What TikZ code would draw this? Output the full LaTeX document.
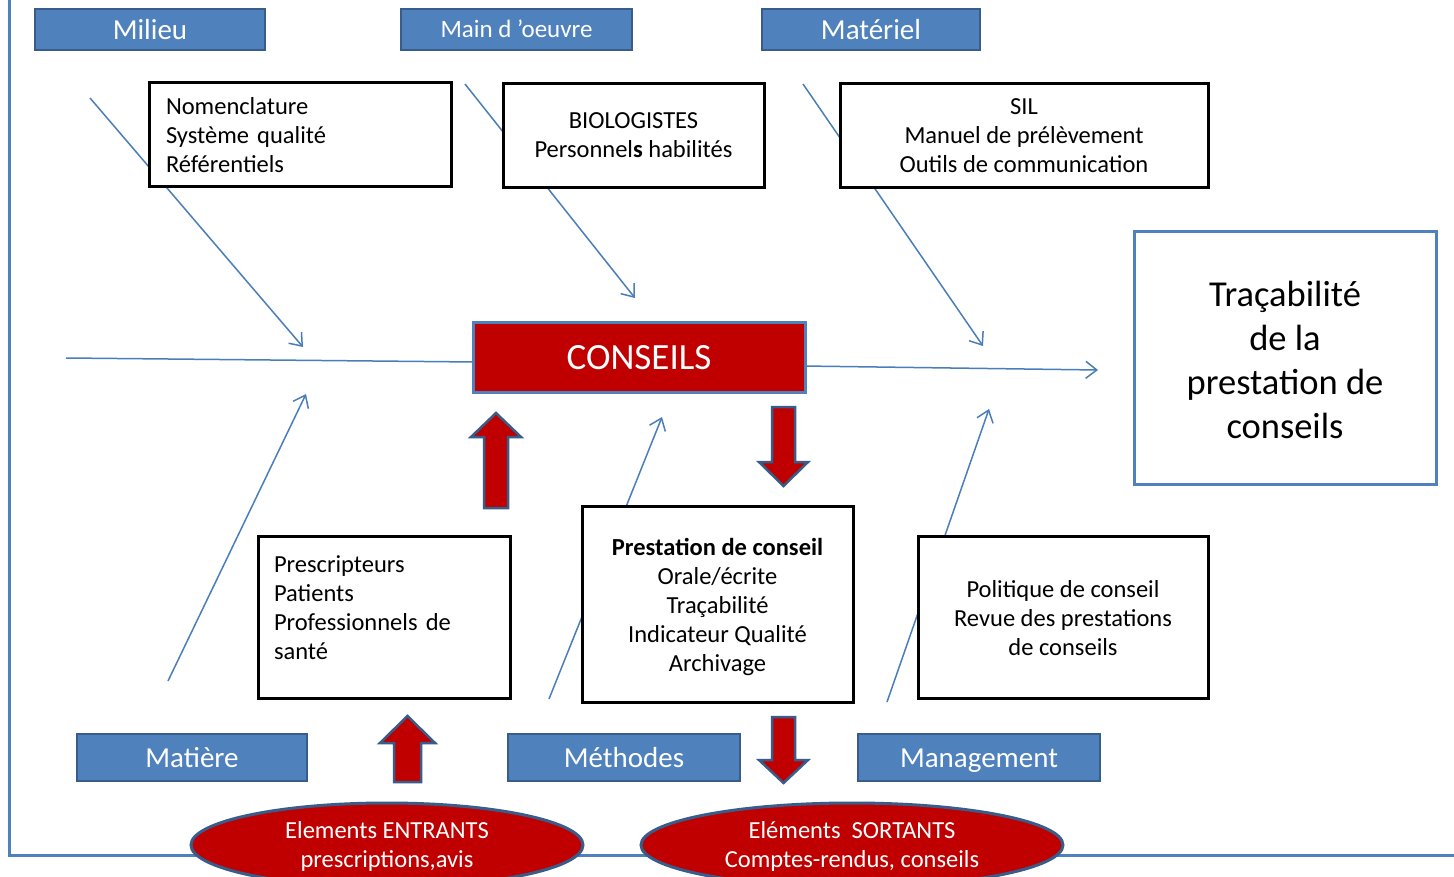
\documentclass[tikz,border=0pt]{standalone}
\usepackage{fontspec}
\setmainfont{Carlito}
\usetikzlibrary{arrows.meta,shapes.geometric}
\definecolor{lblue}{HTML}{4F81BD}
\definecolor{dblue}{HTML}{385D8A}
\definecolor{lineblue}{HTML}{4A7EBB}
\definecolor{dred}{HTML}{C00000}
\begin{document}
\begin{tikzpicture}[x=1pt,y=-1pt,
 cat/.style={draw=dblue, fill=lblue, line width=2.5pt, text=white, font=\fontsize{29}{34}\selectfont, inner sep=0pt, text height=20pt, text depth=0pt},
 blackbox/.style={draw=black, fill=white, line width=3pt, inner sep=0pt, align=center, font=\fontsize{24.5}{29}\selectfont},
 boxtext/.style={inner sep=0pt, font=\fontsize{24.5}{29}\selectfont},
 bone/.style={draw=lineblue, line width=1.5pt, -{Straight Barb[length=11pt,width=17pt,line width=1.5pt]}},
 spine/.style={draw=lineblue, line width=1.5pt},
 blockarrow/.style={draw=dblue, fill=dred, line width=2.5pt, line join=miter},
 outcome/.style={ellipse, draw=dblue, fill=dred, line width=3pt, text=white, align=center, font=\fontsize{24.5}{29}\selectfont, inner sep=0pt}
]
\useasboundingbox (0,0) rectangle (1454,877);
\clip (0,0) rectangle (1454,877);
\fill[white] (0,0) rectangle (1454,877);

% frame
\coordinate (f1) at (9,-5);
\coordinate (f2) at (9,855);
\coordinate (f3) at (1460,855);
\draw[lblue, line width=3pt] (f1) -- (f2) -- (f3);

% bones
\coordinate (b1s) at (90,98);   \coordinate (b1e) at (303,347);
\coordinate (b2s) at (465,84);  \coordinate (b2e) at (635,298);
\coordinate (b3s) at (803,84);  \coordinate (b3e) at (983,346);
\coordinate (b4s) at (168,681); \coordinate (b4e) at (306,394);
\coordinate (b5s) at (549,699); \coordinate (b5e) at (662,417);
\coordinate (b6s) at (887,702); \coordinate (b6e) at (989,409);
\draw[bone] (b1s) -- (b1e);
\draw[bone] (b2s) -- (b2e);
\draw[bone] (b3s) -- (b3e);
\draw[bone] (b4s) -- (b4e);
\draw[bone] (b5s) -- (b5e);
\draw[bone] (b6s) -- (b6e);

% spine
\coordinate (spL) at (66,358);
\coordinate (spA) at (475,362);
\coordinate (spB) at (803,366);
\coordinate (spR) at (1098,370);
\draw[spine] (spL) -- (spA);
\draw[bone] (spB) -- (spR);

% category labels
\node[cat, minimum width=230pt, minimum height=41pt] (milieu) at (150,29.5) {Milieu};
\node[cat, minimum width=231pt, minimum height=41pt, font=\fontsize{25}{30}\selectfont, text height=17pt] (main) at (516.5,29.5) {Main d ’oeuvre};
\node[cat, minimum width=218pt, minimum height=41pt] (materiel) at (871,29.5) {Matériel};
\node[cat, minimum width=230pt, minimum height=47pt] (matiere) at (192,757.5) {Matière};
\node[cat, minimum width=232pt, minimum height=47pt] (methodes) at (624,757.5) {Méthodes};
\node[cat, minimum width=242pt, minimum height=47pt] (management) at (979,757.5) {Management};

% black boxes
\node[blackbox, minimum width=302pt, minimum height=104pt, text width=268pt, align=left] (nom) at (300,135) {Nomenclature\\Système qualité\\Référentiels};
\node[blackbox, minimum width=261pt, minimum height=104pt] (bio) at (633.5,135.5) {BIOLOGISTES\\Personnel\textbf{s} habilités};
\node[blackbox, minimum width=368pt, minimum height=104pt] (sil) at (1024,135.5) {SIL\\Manuel de prélèvement\\Outils de communication};
\node[blackbox, minimum width=252pt, minimum height=162pt] (pres) at (384,617) {};
\node[boxtext, text width=220pt, align=left] (prestxt) at (384,607.5) {Prescripteurs\\Patients\\Professionnels de\\santé};
\node[blackbox, minimum width=271pt, minimum height=196pt] (prest) at (717.5,604) {};
\node[boxtext, align=center] (presttxt) at (717.5,606.5) {\textbf{Prestation de conseil}\\Orale/écrite\\Traçabilité\\Indicateur Qualité\\Archivage};
\node[blackbox, minimum width=290pt, minimum height=162pt] (pol) at (1063,617) {};
\node[boxtext, align=center] (poltxt) at (1063,618.5) {Politique de conseil\\Revue des prestations\\de conseils};

% central and effect
\node[draw=lblue, fill=dred, line width=3pt, minimum width=332pt, minimum height=69pt, inner sep=0pt, text=white, font=\fontsize{37}{44}\selectfont] (conseils) at (639,357.5) {CONSEILS};
\node[draw=lblue, fill=white, line width=3pt, minimum width=302pt, minimum height=252pt, inner sep=0pt, align=center, font=\fontsize{36.5}{43.7}\selectfont] (trac) at (1285,358) {};
\node[inner sep=0pt, align=center, font=\fontsize{36.5}{43.7}\selectfont] (tractxt) at (1285,360) {Traçabilité\\de la\\prestation de\\conseils};

% block arrows
\draw[blockarrow] (484,508) -- (484,437) -- (471,437) -- (496,413) -- (521,437) -- (508,437) -- (508,508) -- cycle;
\draw[blockarrow] (772,407) -- (772,462) -- (759,462) -- (783.5,486) -- (808,462) -- (795,462) -- (795,407) -- cycle;
\draw[blockarrow] (394,782) -- (394,743) -- (380,743) -- (407.5,716) -- (435,743) -- (421,743) -- (421,782) -- cycle;
\draw[blockarrow] (772,717) -- (772,760) -- (759,760) -- (783.5,783) -- (808,760) -- (795,760) -- (795,717) -- cycle;

% outcomes
\node[outcome, minimum width=392pt, minimum height=84pt] (entrants) at (387,845) {};
\node[inner sep=0pt, align=center, text=white, font=\fontsize{24.5}{29}\selectfont] (entxt) at (387,846.5) {Elements ENTRANTS\\prescriptions,avis};
\node[outcome, minimum width=422pt, minimum height=84pt] (sortants) at (852,845) {};
\node[inner sep=0pt, align=center, text=white, font=\fontsize{24.5}{29}\selectfont] (sortxt) at (852,846.5) {Eléments~ SORTANTS\\Comptes-rendus, conseils};
\end{tikzpicture}
\end{document}
